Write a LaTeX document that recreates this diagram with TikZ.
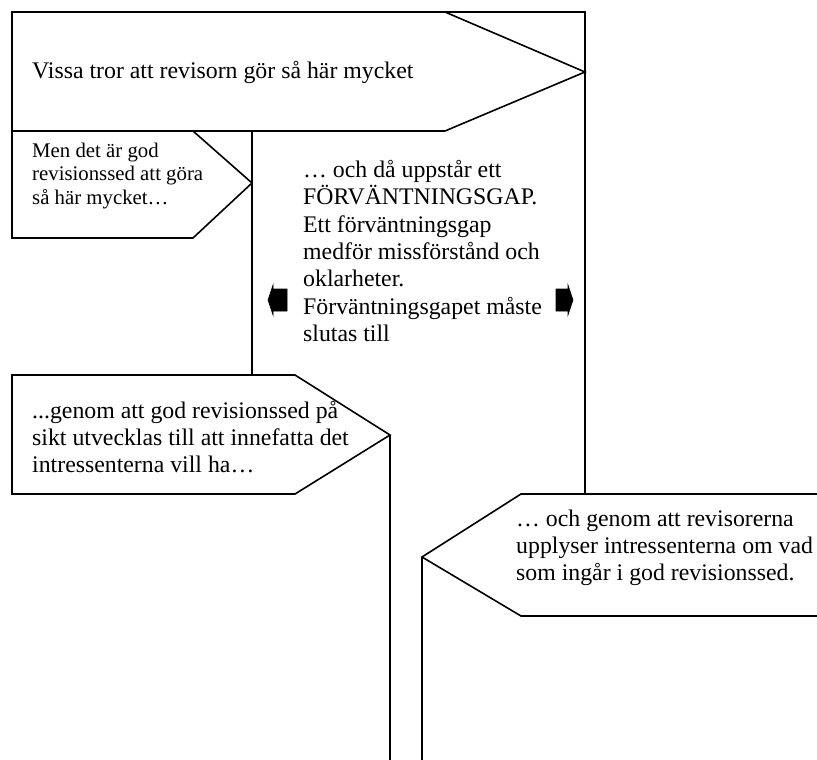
\documentclass[tikz,border=0pt]{standalone}
\usepackage{fontspec}
\setmainfont{Liberation Serif}

\tikzset{
    outline/.style={draw=black, line width=1.6pt, line join=miter},
    pilform/.style={outline, fill=white},
    brodtext/.style={anchor=west, inner sep=0pt, align=left, font=\fontsize{23.8}{27.3}\selectfont},
    smaltext/.style={anchor=west, inner sep=0pt, align=left, font=\fontsize{20.8}{23.9}\selectfont},
    blockpil/.style={fill=black, draw=black, line width=0.6pt, line join=miter}
}

\begin{document}
\begin{tikzpicture}[x=1pt, y=-1pt]
    \useasboundingbox (0,0) rectangle (817,760);

    \coordinate (spetsA) at (585,72);
    \coordinate (spetsB) at (252,183);
    \coordinate (spetsC) at (390,435);
    \coordinate (spetsD) at (422,557);
    \coordinate (pilV) at (268,300);
    \coordinate (pilH) at (573,300);

    \draw [outline] (445,12) -- (585,12) -- (585,494);
    \draw [outline] (252,131) -- (252,375);
    \draw [outline] (spetsC) -- (390,762);
    \draw [outline] (spetsD) -- (422,762);

    \draw [pilform] (12,12) -- (445,12) -- (spetsA) -- (445,131) -- (12,131) -- cycle;
    \draw [pilform] (12,131) -- (193,131) -- (spetsB) -- (193,238) -- (12,238) -- cycle;
    \draw [pilform] (12,375) -- (295,375) -- (spetsC) -- (295,494) -- (12,494) -- cycle;
    \draw [pilform] (822,494) -- (521,494) -- (spetsD) -- (521,616) -- (822,616);

    \fill [blockpil, shift={(pilV)}] (19,-11) -- (5,-11) -- (5,-15) -- (0,0) -- (5,15) -- (5,11) -- (19,11) -- cycle;
    \fill [blockpil, shift={(pilH)}] (-17,-11) -- (-5,-11) -- (-5,-15) -- (0,0) -- (-5,15) -- (-5,11) -- (-17,11) -- cycle;

    \node [brodtext] (vissa) at (32,72) {Vissa tror att revisorn gör så här mycket};
    \node [smaltext] (godsed) at (32,176) {Men det är god\\revisionssed att göra\\så här mycket…};
    \node [brodtext] (gap) at (303,251) {… och då uppstår ett\\FÖRVÄNTNINGSGAP.\\Ett förväntningsgap\\medför missförstånd och\\oklarheter.\\Förväntningsgapet måste\\slutas till};
    \node [brodtext] (utveckla) at (32,437) {...genom att god revisionssed på\\sikt utvecklas till att innefatta det\\intressenterna vill ha…};
    \node [brodtext] (upplysa) at (516,548) {… och genom att revisorerna\\upplyser intressenterna om vad\\som ingår i god revisionssed.};
\end{tikzpicture}
\end{document}
